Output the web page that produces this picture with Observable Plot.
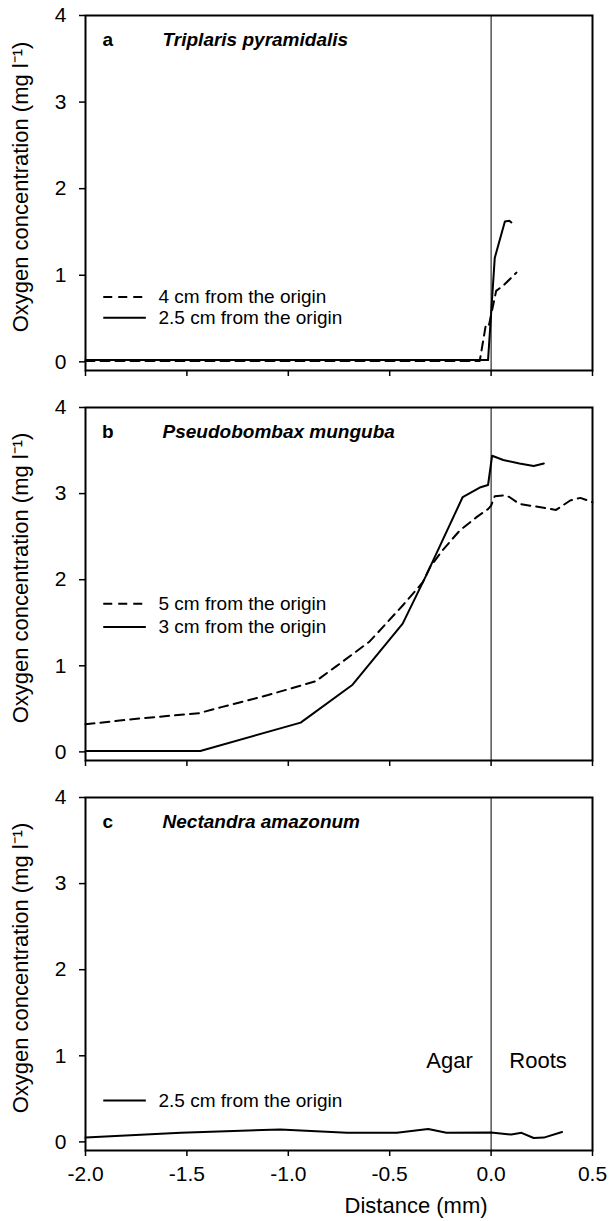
<!DOCTYPE html>
<html>
<head>
<meta charset="utf-8">
<script src="https://cdn.jsdelivr.net/npm/d3@7"></script>
<script src="https://cdn.jsdelivr.net/npm/@observablehq/plot@0.6"></script>
<style>
  html, body { margin: 0; padding: 0; background: #fff; }
  #chart svg { display: block; }
</style>
</head>
<body>
<div id="chart"></div>
<script>
// ---- data ----
const xTicks = [-2, -1.5, -1, -0.5, 0, 0.5];
const yTicks = [0, 1, 2, 3, 4];
const yTitle = "Oxygen concentration (mg l\u207B\u00B9)";
const xTitle = "Distance (mm)";

// Panel a: Triplaris pyramidalis
const aDashX = [-2, -0.056, -0.025, -0.01, 0.025, 0.06, 0.125];
const aDashY = [0.01, 0.01, 0.44, 0.43, 0.82, 0.88, 1.03];
const aSolidX = [-2, -0.015, 0.018, 0.068, 0.09, 0.1];
const aSolidY = [0.02, 0.02, 1.2, 1.62, 1.63, 1.61];

// Panel b: Pseudobombax munguba
const bSolidX = [-2, -1.434, -0.939, -0.683, -0.436, -0.32, -0.14, -0.056, -0.015, 0.005, 0.06, 0.14, 0.21, 0.26];
const bSolidY = [0.01, 0.01, 0.34, 0.78, 1.49, 2.05, 2.96, 3.07, 3.1, 3.44, 3.39, 3.35, 3.32, 3.35];
const bDashX = [-2, -1.77, -1.44, -1.33, -1.10, -0.865, -0.766, -0.60, -0.436, -0.337, -0.3, -0.24, -0.155, -0.07, -0.015, 0.0, 0.018, 0.07, 0.09, 0.14, 0.22, 0.32, 0.39, 0.44, 0.5];
const bDashY = [0.32, 0.38, 0.45, 0.52, 0.66, 0.82, 0.99, 1.28, 1.70, 1.97, 2.15, 2.34, 2.57, 2.73, 2.82, 2.86, 2.97, 2.98, 2.96, 2.88, 2.85, 2.81, 2.92, 2.95, 2.90];

// Panel c: Nectandra amazonum
const cSolidX = [-2.0, -1.53, -1.04, -0.71, -0.465, -0.31, -0.22, 0.0, 0.1, 0.15, 0.21, 0.26, 0.35];
const cSolidY = [0.05, 0.105, 0.145, 0.105, 0.105, 0.15, 0.105, 0.11, 0.085, 0.105, 0.045, 0.05, 0.115];

const panels = [
  {letter: "a", species: "Triplaris pyramidalis",
   series: [
     {xs: aDashX, ys: aDashY, dashed: true, label: "4 cm from the origin", ly: 0.75},
     {xs: aSolidX, ys: aSolidY, dashed: false, label: "2.5 cm from the origin", ly: 0.51}
   ], height: 392, marginBottom: 22, xLabels: false, zones: false},
  {letter: "b", species: "Pseudobombax munguba",
   series: [
     {xs: bDashX, ys: bDashY, dashed: true, label: "5 cm from the origin", ly: 1.72},
     {xs: bSolidX, ys: bSolidY, dashed: false, label: "3 cm from the origin", ly: 1.45}
   ], height: 390, marginBottom: 22, xLabels: false, zones: false},
  {letter: "c", species: "Nectandra amazonum",
   series: [
     {xs: cSolidX, ys: cSolidY, dashed: false, label: "2.5 cm from the origin", ly: 0.48}
   ], height: 439, marginBottom: 71, xLabels: true, zones: true}
];
const zoneLabels = ["Agar", "Roots"];

// ---- drawing ----
const font = "'Liberation Sans', Arial, Helvetica, sans-serif";
const dash = "9,6";
const root = document.getElementById("chart");

for (const p of panels) {
  const marks = [
    Plot.ruleX([0], {stroke: "black", strokeWidth: 1}),
    Plot.axisY(yTicks, {tickSize: 6, tickPadding: 13, fontSize: 21, label: null,
      tickFormat: d => String(d), stroke: "black", strokeWidth: 1.5, fill: "black"}),
    Plot.axisX(xTicks, {tickSize: 6, tickPadding: 10, fontSize: 21, label: null,
      tickFormat: p.xLabels ? (d => d.toFixed(1)) : (() => ""), stroke: "black", strokeWidth: 1.5, fill: "black"}),
    Plot.text([yTitle], {frameAnchor: "left", rotate: -90, dx: -65, dy: -6,
      textAnchor: "middle", lineAnchor: "middle", fontSize: 22, fill: "black"}),
    Plot.text([p.letter], {x: -1.89, y: 3.72, fontWeight: "bold", fontSize: 19, fill: "black"}),
    Plot.text([p.species], {x: -1.62, y: 3.72, textAnchor: "start", fontWeight: "bold",
      fontStyle: "italic", fontSize: 19, fill: "black"})
  ];
  for (const s of p.series) {
    const rows = s.xs.map((x, i) => ({x, y: s.ys[i]}));
    marks.push(Plot.line(rows, {x: "x", y: "y", stroke: "black", strokeWidth: 2,
      strokeDasharray: s.dashed ? dash : null, strokeLinejoin: "round"}));
    marks.push(Plot.ruleY([s.ly], {x1: -1.91, x2: -1.70, stroke: "black", strokeWidth: 2,
      strokeDasharray: s.dashed ? dash : null}));
    marks.push(Plot.text([s.label], {x: -1.64, y: s.ly, textAnchor: "start", fontSize: 19, fill: "black"}));
  }
  if (p.zones) {
    marks.push(Plot.text([zoneLabels[0]], {x: -0.09, y: 0.94, textAnchor: "end", fontSize: 22, fill: "black"}));
    marks.push(Plot.text([zoneLabels[1]], {x: 0.09, y: 0.94, textAnchor: "start", fontSize: 22, fill: "black"}));
  }
  if (p.xLabels) {
    marks.push(Plot.text([xTitle], {x: -0.37, frameAnchor: "bottom", dy: 55,
      lineAnchor: "middle", fontSize: 22, fill: "black"}));
  }
  marks.push(Plot.frame({stroke: "black", strokeWidth: 2}));

  const svg = Plot.plot({
    width: 609,
    height: p.height,
    marginTop: 15,
    marginBottom: p.marginBottom,
    marginLeft: 85,
    marginRight: 17,
    x: {domain: [-2, 0.5]},
    y: {domain: [-0.1, 4]},
    style: {fontFamily: font, color: "black", background: "white", overflow: "visible"},
    marks
  });
  root.appendChild(svg);
}
</script>
</body>
</html>
